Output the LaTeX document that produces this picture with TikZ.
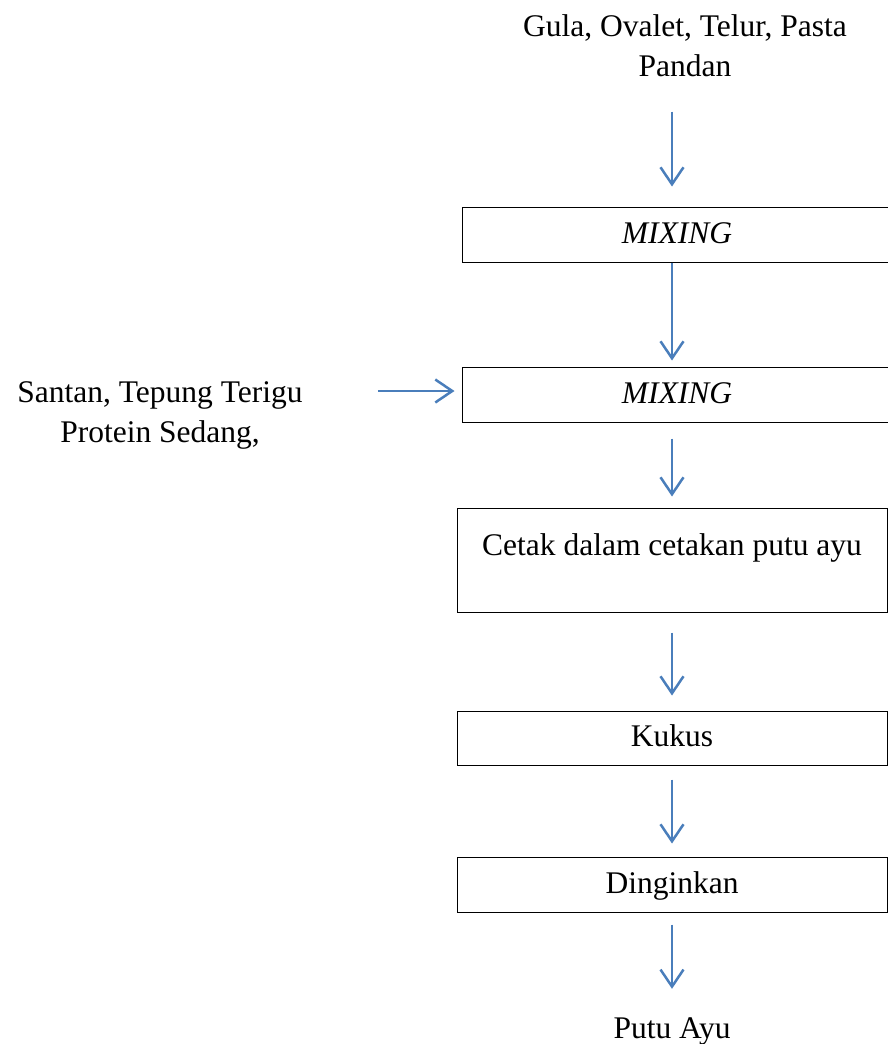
\documentclass[tikz,border=0pt]{standalone}
\usepackage{fontspec}
\setmainfont{Liberation Serif}
\usetikzlibrary{arrows.meta}
\definecolor{alur}{RGB}{74,126,187}
\tikzset{
	langkah/.style={draw, line width=1pt, minimum width=430pt, inner sep=0pt, text height=24pt, text depth=7pt},
	bahan/.style={align=center, inner sep=0pt},
	alir/.style={alur, line width=2.5pt, -{Straight Barb[length=17pt,width=23pt]}},
}
\begin{document}
\begin{tikzpicture}[x=1pt, y=-1pt, font=\fontsize{31.5}{40}\selectfont]
	\useasboundingbox (0,0) rectangle (887,1044);
	\coordinate (jalur) at (672,0);
	\node[bahan, anchor=base] (bahan1) at (685,76) {Gula, Ovalet, Telur, Pasta\\Pandan};
	\node[bahan, anchor=base] (bahan2) at (160,442) {Santan, Tepung Terigu\\Protein Sedang,};
	\node[langkah, minimum height=55pt] (mix1) at (677,234.5) {\textit{MIXING}};
	\node[langkah, minimum height=55pt] (mix2) at (677,394.5) {\textit{MIXING}};
	\node[langkah, minimum height=104pt] (cetak) at (672,560) {\raisebox{13.5pt}[\height][\depth]{Cetak dalam cetakan putu ayu}};
	\node[langkah, minimum height=54pt] (kukus) at (672,738) {Kukus};
	\node[langkah, minimum height=55pt] (dingin) at (672,884.5) {Dinginkan};
	\node[inner sep=0pt, text height=24pt, text depth=7pt, anchor=base] (hasil) at (672,1038) {Putu Ayu};
	% alur proses
	\draw[alir, shorten <=35pt, shorten >=20pt] (bahan1.south -| jalur) -- (mix1.north -| jalur);
	\draw[alir, shorten >=6pt] (mix1.south -| jalur) -- (mix2.north -| jalur);
	\draw[alir, shorten <=75pt, shorten >=7pt] ([yshift=3.5pt]mix2.west -| bahan2.east) -- ([yshift=3.5pt]mix2.west);
	\draw[alir, shorten <=16pt, shorten >=11pt] (mix2.south -| jalur) -- (cetak.north -| jalur);
	\draw[alir, shorten <=20pt, shorten >=15pt] (cetak.south -| jalur) -- (kukus.north -| jalur);
	\draw[alir, shorten <=14pt, shorten >=13pt] (kukus.south -| jalur) -- (dingin.north -| jalur);
	\draw[alir, shorten <=12pt, shorten >=25pt] (dingin.south -| jalur) -- (hasil.north -| jalur);
\end{tikzpicture}
\end{document}
